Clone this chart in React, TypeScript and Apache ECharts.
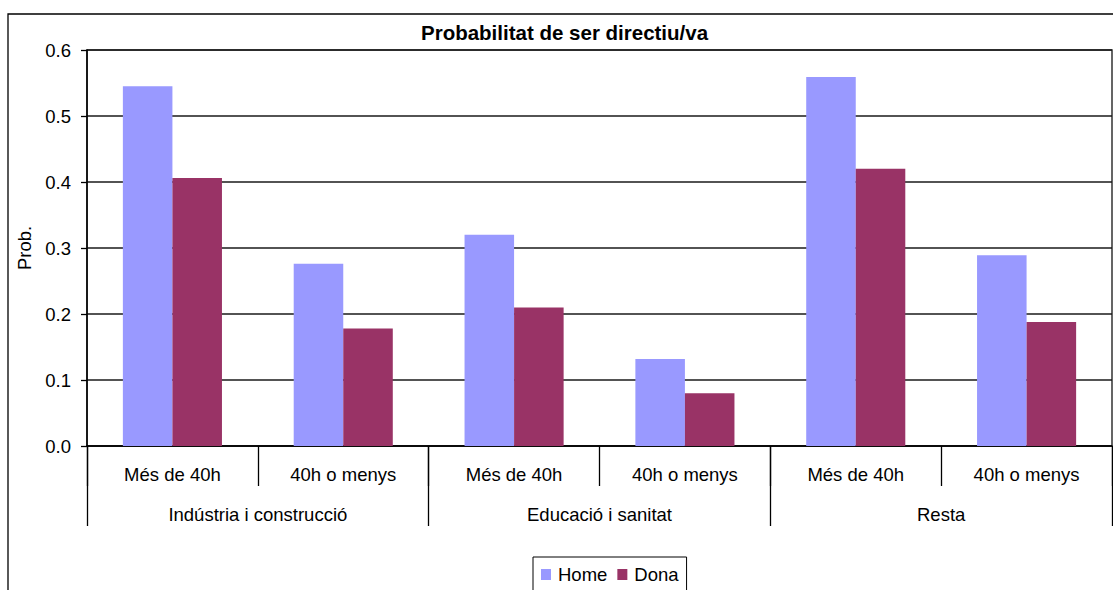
import React, { useEffect, useRef } from "react";
import * as echarts from "echarts";

const subCategories = ["Més de 40h", "40h o menys", "Més de 40h", "40h o menys", "Més de 40h", "40h o menys"];
const groupCategories = ["Indústria i construcció", "Educació i sanitat", "Resta"];
const homeValues = [0.545, 0.276, 0.32, 0.132, 0.559, 0.289];
const donaValues = [0.406, 0.178, 0.21, 0.08, 0.42, 0.188];
const seriesNames = ["Home", "Dona"];
const titleText = "Probabilitat de ser directiu/va";
const yAxisName = "Prob.";

const FONT = "'Liberation Sans', Arial, sans-serif";

export default function App() {
  const ref = useRef<HTMLDivElement>(null);
  useEffect(() => {
    if (!ref.current) return;
    const chart = echarts.init(ref.current, null, { renderer: "svg" });
    chart.setOption({
      animation: false,
      backgroundColor: "#ffffff",
      textStyle: { fontFamily: FONT },
      title: {
        text: titleText,
        left: 421,
        top: 22,
        padding: 0,
        textStyle: { fontFamily: FONT, fontSize: 20.5, fontWeight: "bold", color: "#000" },
      },
      legend: {
        data: seriesNames,
        left: 533,
        top: 557,
        orient: "horizontal",
        borderColor: "#000",
        borderWidth: 1,
        padding: [8, 8, 30, 8],
        itemWidth: 10,
        itemHeight: 11,
        itemGap: 10,
        icon: "rect",
        textStyle: { fontFamily: FONT, fontSize: 18.5, color: "#000", padding: [0, 0, 0, 2] },
      },
      graphic: [
        {
          type: "rect",
          shape: { x: 8, y: 14, width: 1300, height: 800 },
          style: { fill: "none", stroke: "#000", lineWidth: 1.3 },
          silent: true,
          z: 100,
        },
      ],
      grid: {
        left: 87,
        right: 1,
        top: 50,
        bottom: 144,
        containLabel: false,
        show: true,
        borderColor: "#333",
        borderWidth: 1.5,
      },
      xAxis: [
        {
          type: "category",
          data: subCategories,
          position: "bottom",
          axisLine: { show: true, lineStyle: { color: "#000", width: 1.5 } },
          axisTick: { show: true, length: 40, interval: 0, lineStyle: { color: "#000", width: 1.3 } },
          axisLabel: { interval: 0, margin: 19, color: "#000", fontSize: 18.5, fontFamily: FONT },
          splitLine: { show: false },
        },
        {
          type: "category",
          data: groupCategories,
          position: "bottom",
          offset: 0,
          axisLine: { show: false },
          axisTick: { show: true, length: 80, interval: 0, lineStyle: { color: "#000", width: 1.3 } },
          axisLabel: { interval: 0, margin: 59, color: "#000", fontSize: 18.5, fontFamily: FONT },
          splitLine: { show: false },
        },
      ],
      yAxis: {
        type: "value",
        min: 0,
        max: 0.6,
        interval: 0.1,
        name: yAxisName,
        nameLocation: "middle",
        nameRotate: 90,
        nameGap: 52,
        nameTextStyle: { fontFamily: FONT, fontSize: 18.5, color: "#000" },
        axisLine: { show: true, lineStyle: { color: "#000", width: 1.5 } },
        axisTick: { show: true, length: 6, lineStyle: { color: "#000", width: 1.3 } },
        axisLabel: {
          margin: 16,
          color: "#000",
          fontSize: 18.5,
          fontFamily: FONT,
          formatter: (v: number) => v.toFixed(1),
        },
        splitLine: { show: true, lineStyle: { color: "#1a1a1a", width: 1.5 } },
      },
      series: [
        {
          name: seriesNames[0],
          type: "bar",
          xAxisIndex: 0,
          data: homeValues,
          itemStyle: { color: "#9999FF" },
          barGap: "0%",
          barCategoryGap: "42%",
        },
        {
          name: seriesNames[1],
          type: "bar",
          xAxisIndex: 0,
          data: donaValues,
          itemStyle: { color: "#993366" },
          barGap: "0%",
          barCategoryGap: "42%",
        },
      ],
    });
    return () => chart.dispose();
  }, []);
  return (
    <div
      ref={ref}
      style={{ position: "fixed", left: 0, top: 0, width: 1113, height: 590, background: "#fff" }}
    />
  );
}
